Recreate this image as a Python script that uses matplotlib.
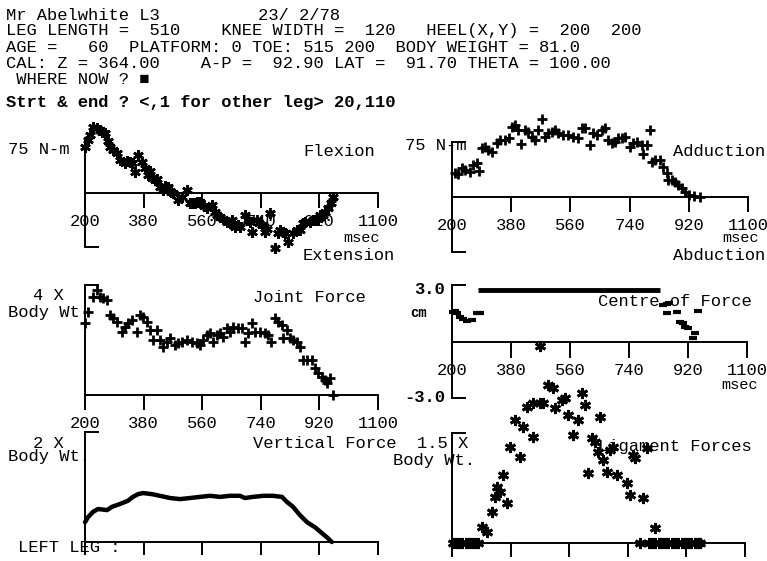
import matplotlib
matplotlib.use("Agg")
import matplotlib.pyplot as plt

W, H = 767, 561
MONO = ["Liberation Mono", "DejaVu Sans Mono"]
FS = 12.3

# ---------------- header text ----------------
header_lines = [
    "LEG LENGTH =  510    KNEE WIDTH =  120   HEEL(X,Y) =  200  200",
    "AGE =   60  PLATFORM: 0 TOE: 515 200  BODY WEIGHT = 81.0",
    "CAL: Z = 364.00    A-P =  92.90 LAT =  91.70 THETA = 100.00",
    " WHERE NOW ? \u25a0",
]
title_name = "Mr Abelwhite L3"
title_date = "23/ 2/78"
prompt_line = "Strt & end ? <,1 for other leg> 20,110"

# ---------------- data ----------------
tick_msec = [200, 380, 560, 740, 920, 1100]
tick_labels = ["200", "380", "560", "740", "920", "1100"]

# Flexion / Extension moment (N-m)
flex_t = [200, 209, 225, 237, 252, 261, 277, 286, 298, 307, 323, 338, 354, 363, 375,
          384, 393, 406, 415, 430, 440, 455, 470, 486, 498, 513, 523, 538, 553, 575,
          590, 599, 615, 636, 651, 661, 676, 691, 707, 713, 728, 744, 753, 768, 784,
          793, 808, 823, 839, 860, 876, 891, 906, 922, 937, 946, 962,
          215, 245, 270, 330, 345, 400, 420, 445, 465, 530, 545, 565, 605, 625, 645,
          670, 700, 735, 760, 800, 815, 850, 870, 900, 915, 930, 955]
flex_nm = [64, 74, 92, 90, 85, 83, 64, 60, 56, 46, 42, 43, 29, 53, 43,
           35, 25, 21, 18, 8, 4, 8, 0, -10, -6, 4, -14, -14, -12, -21,
           -17, -26, -33, -40, -38, -47, -47, -31, -40, -54, -38, -44, -54, -28, -76,
           -56, -54, -68, -56, -51, -40, -40, -38, -31, -26, -21, -6,
           80, 88, 72, 44, 42, 30, 20, 10, 2, -14, -12, -18, -30, -36, -42,
           -44, -38, -42, -50, -52, -56, -52, -42, -38, -36, -30, -14]

# Adduction / Abduction moment (N-m)
add_t = [209, 218, 230, 239, 255, 264, 276, 282, 291, 300, 309, 322, 337, 346, 361,
         373, 382, 392, 401, 410, 422, 431, 443, 452, 461, 474, 483, 492, 504, 513,
         522, 538, 553, 568, 583, 595, 604, 620, 629, 641, 656, 665, 674, 687, 696,
         705, 717, 726, 741, 751, 763, 778, 781, 793, 802, 808, 817, 832, 841, 854,
         857, 869, 878, 887, 899, 908, 920, 935, 954]
add_nm = [33, 31, 40, 37, 34, 44, 46, 35, 67, 68, 64, 61, 74, 78, 78,
          80, 95, 98, 91, 72, 91, 89, 82, 78, 91, 106, 82, 87, 89, 91,
          87, 85, 85, 82, 80, 94, 94, 71, 87, 85, 91, 94, 78, 74, 75,
          80, 80, 82, 68, 74, 75, 71, 59, 71, 91, 48, 50, 50, 41, 33,
          23, 23, 20, 16, 12, 7, 3, 1, 0]

# Joint force (x body weight)
jf_t = [200, 209, 225, 237, 246, 255, 268, 277, 286, 298, 314, 323, 332, 344, 360,
        369, 378, 390, 400, 409, 421, 430, 440, 452, 461, 476, 486, 498, 513, 529,
        544, 553, 562, 575, 584, 593, 605, 615, 624, 636, 645, 655, 670, 682, 691,
        701, 713, 722, 738, 753, 762, 771, 784, 793, 805, 808, 820, 830, 839, 851,
        860, 870, 882, 897, 906, 916, 928, 937, 943, 952, 962]
jf_bw = [2.62, 3.02, 3.56, 3.82, 3.56, 3.53, 3.45, 2.91, 2.80, 2.65, 2.29, 2.47, 2.62, 2.73, 2.29,
         2.91, 2.84, 2.65, 2.36, 2.00, 2.36, 2.00, 1.75, 1.93, 2.07, 1.82, 1.89, 1.93, 2.00, 1.93,
         1.89, 1.82, 2.00, 2.18, 2.25, 1.93, 2.18, 2.25, 2.11, 2.44, 2.29, 2.47, 2.44, 2.44, 1.93,
         2.25, 2.62, 2.29, 2.29, 2.25, 2.18, 1.93, 2.80, 2.65, 2.55, 2.07, 2.36, 2.07, 2.00, 1.93,
         1.75, 1.27, 1.27, 1.27, 0.98, 0.80, 0.65, 0.55, 0.44, 0.62, 0.00]

# Centre of force (cm)
cof_t = [203, 209, 215, 224, 234, 246, 261, 276, 285,
         844, 856, 856, 862, 886, 895, 905, 911, 920, 935, 941, 950]
cof_cm = [1.58, 1.60, 1.53, 1.32, 1.21, 1.11, 1.16, 1.53, 1.53,
          1.95, 2.00, 1.53, 2.05, 1.58, 1.05, 1.00, 0.79, 0.74, 0.21, 0.47, 1.63]
cof_sat_start, cof_sat_end, cof_sat_cm = 280, 835, 2.75

# Vertical force (x body weight)
vf_t = [200, 209, 225, 240, 268, 283, 307, 332, 347, 363, 378, 406, 430, 461, 492,
        523, 553, 584, 615, 645, 676, 691, 716, 747, 777, 805, 820, 839, 860, 882,
        906, 928, 946, 958]
vf_bw = [0.36, 0.45, 0.55, 0.60, 0.58, 0.64, 0.69, 0.75, 0.82, 0.87, 0.89, 0.87, 0.84, 0.80, 0.78,
         0.80, 0.82, 0.84, 0.82, 0.84, 0.84, 0.80, 0.82, 0.84, 0.84, 0.82, 0.73, 0.64, 0.49, 0.36,
         0.27, 0.16, 0.07, 0.00]

# Ligament forces (x body weight)
lig_t = [203, 212, 222, 232, 242, 252, 262, 272, 280,
         292, 307, 322, 332, 338, 347, 356, 369, 378, 393, 409, 418, 430, 449, 449, 470,
         479, 495, 510, 516, 538, 547, 556, 572, 587, 599, 608, 618, 630, 639, 648,
         654, 664, 676, 685, 694, 706, 737, 746, 756, 762, 786, 799, 823, 470,
         777, 805, 815, 825, 835, 845, 855, 865, 875, 885, 895, 905, 915, 925, 935,
         945, 955, 962]
lig_bw = [0, 0, 0, 0, 0, 0, 0, 0, 0,
          0.22, 0.15, 0.42, 0.63, 0.76, 0.70, 0.93, 0.55, 1.31, 1.68, 1.17, 1.58, 1.86, 1.45, 1.91, 1.91,
          1.91, 2.16, 2.11, 1.84, 1.95, 1.98, 1.75, 1.47, 1.68, 2.05, 1.88, 0.95, 1.43, 1.38, 1.24,
          1.72, 1.13, 0.97, 1.27, 1.31, 0.93, 0.82, 0.65, 1.20, 1.16, 0.61, 1.30, 0.20, 2.69,
          0, 0, 0, 0, 0, 0, 0, 0, 0, 0, 0, 0, 0, 0, 0,
          0, 0, 0]

# ---------------- figure ----------------
fig = plt.figure(figsize=(W / 100, H / 100), dpi=100)
fig.patch.set_facecolor("white")


def ftext(x, y, s, ha="left", **kw):
    kw.setdefault("family", MONO)
    kw.setdefault("fontsize", FS)
    fig.text(x / W, 1 - y / H, s, ha=ha, va="center", color="black", **kw)


def panel(x0, x1, ytop, ybot, ylim, yticks, labels=True, tick_len=15):
    ax = fig.add_axes([x0 / W, 1 - ybot / H, (x1 - x0) / W, (ybot - ytop) / H])
    ax.set_xlim(200, 1100)
    ax.set_ylim(*ylim)
    ax.patch.set_alpha(0)
    for s in ("top", "right"):
        ax.spines[s].set_visible(False)
    ax.spines["left"].set_linewidth(1.4)
    ax.spines["bottom"].set_linewidth(1.4)
    ax.spines["bottom"].set_position(("data", 0))
    ax.set_xticks(tick_msec)
    ax.set_xticklabels(tick_labels if labels else [""] * len(tick_msec))
    ax.tick_params(axis="x", direction="out", length=tick_len * 0.72, width=1.4,
                   pad=4, labelsize=FS, labelbottom=labels)
    for lab in ax.get_xticklabels():
        lab.set_family(MONO)
    ax.set_yticks(yticks)
    ax.set_yticklabels([])
    ax.tick_params(axis="y", direction="in", length=10, width=1.4)
    return ax


star = (6, 2, 0)

# Flexion panel
ax1 = panel(85, 378, 139, 247, (-75, 75), [-75])
ax1.plot(flex_t, flex_nm, ls="none", marker=star, ms=7.5, mew=1.9, color="black", clip_on=False)
ftext(8, 150, "75 N-m")
ftext(303, 152, "Flexion")
ftext(380, 238, "msec", ha="right", fontsize=11)
ftext(303, 255, "Extension")

# Adduction panel
ax2 = panel(452, 748, 142, 252, (-75, 75), [-75, 75])
ax2.plot(add_t, add_nm, ls="none", marker="+", ms=7, mew=2.0, color="black", clip_on=False)
ftext(405, 145, "75 N-m")
ftext(673, 152, "Adduction")
ftext(759, 238, "msec", ha="right", fontsize=11)
ftext(673, 255, "Abduction")

# Joint force panel
ax3 = panel(85, 378, 285, 395, (0, 4), [4])
ax3.plot(jf_t, jf_bw, ls="none", marker="+", ms=7, mew=2.0, color="black", clip_on=False)
ftext(33, 295, "4 X")
ftext(8, 312, "Body Wt")
ftext(253, 298, "Joint Force")

# Centre of force panel
ax4 = panel(452, 747, 285, 398, (-3, 3), [-3, 3], tick_len=16)
ax4.hlines(cof_sat_cm, cof_sat_start, cof_sat_end, color="black", lw=3.5)
ax4.plot(cof_t, cof_cm, ls="none", marker="_", ms=6, mew=3, color="black", clip_on=False)
ftext(445, 290, "3.0", ha="right", fontweight="bold")
ftext(410, 313, "cm", fontsize=10, fontweight="bold")
ftext(445, 398, "-3.0", ha="right", fontweight="bold")
ftext(598, 302, "Centre of Force")
ftext(758, 385, "msec", ha="right", fontsize=11)

# Vertical force panel
ax5 = panel(85, 378, 432, 542, (0, 2), [2], labels=False, tick_len=13)
ax5.plot(vf_t, vf_bw, color="black", lw=3.2, solid_capstyle="round", clip_on=False)
ftext(33, 443, "2 X")
ftext(8, 457, "Body Wt.")
ftext(253, 444, "Vertical Force")
ftext(18, 548, "LEFT LEG :")

# Ligament forces panel
ax6 = panel(452, 745, 433, 543, (0, 1.5), [1.5], labels=False, tick_len=14)
ax6.plot(lig_t, lig_bw, ls="none", marker=star, ms=8, mew=2.0, color="black", clip_on=False)
ftext(417, 443, "1.5 X")
ftext(393, 460, "Body Wt.")
ftext(598, 447, "Ligament Forces")

# Header
ftext(6, 15, title_name)
ftext(258, 15, title_date)
for i, line in enumerate(header_lines):
    ftext(6, [31, 47, 63, 79][i], line)
ftext(6, 102, prompt_line, fontweight="bold")

fig.savefig("out.png", dpi=100, facecolor="white")
